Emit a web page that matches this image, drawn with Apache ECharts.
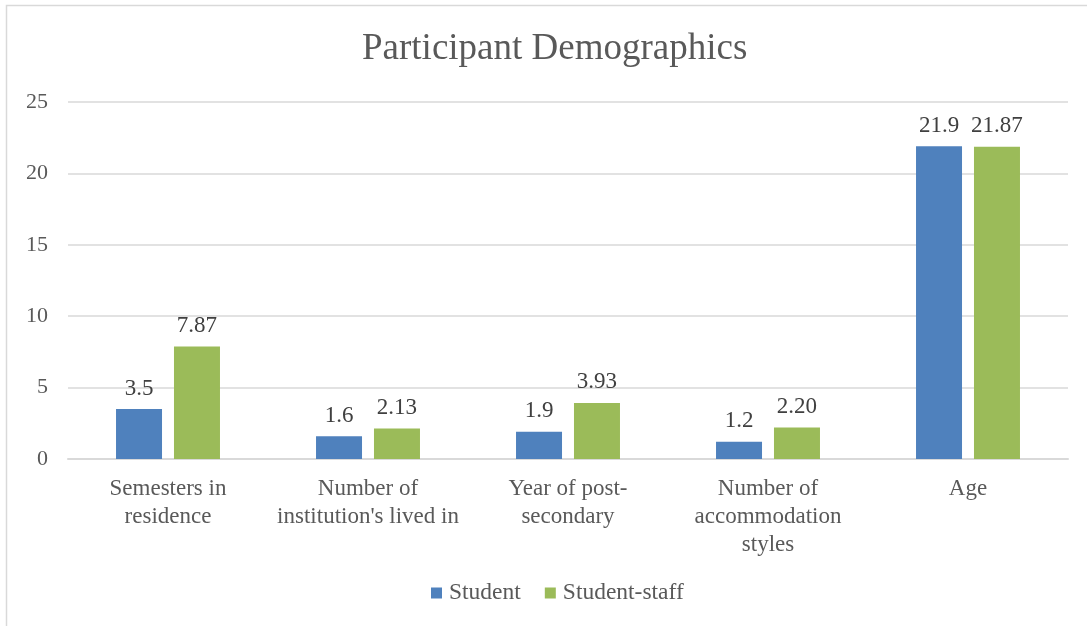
<!DOCTYPE html>
<html>
<head>
<meta charset="utf-8">
<script src="https://cdn.jsdelivr.net/npm/echarts@6/dist/echarts.min.js"></script>
<style>
  html, body { margin: 0; padding: 0; background: #fff; }
  #chart { width: 1087px; height: 626px; }
</style>
</head>
<body>
<div id="chart"></div>
<script>
// categories and values
const categories = [
  'Semesters in\nresidence',
  "Number of\ninstitution's lived in",
  'Year of post-\nsecondary',
  'Number of\naccommodation\nstyles',
  'Age',
]
const studentValues = [3.5, 1.6, 1.9, 1.2, 21.9]
const staffValues = [7.87, 2.13, 3.93, 2.20, 21.87]
const yTicks = [0, 5, 10, 15, 20, 25]

const FONT = '"Liberation Serif", "Times New Roman", serif'

const chart = echarts.init(document.getElementById('chart'))

chart.setOption({
  animation: false,
  textStyle: { fontFamily: FONT },
  graphic: [{
    type: 'rect',
    shape: { x: 6.5, y: 5.5, width: 1200, height: 800 },
    style: { fill: 'none', stroke: '#d9d9d9', lineWidth: 1.5 },
    silent: true,
  }],
  title: {
    text: 'Participant Demographics',
    left: 357,
    top: 26,
    textStyle: { fontFamily: FONT, fontSize: 37, fontWeight: 'normal', color: '#595959' },
  },
  legend: {
    bottom: 16,
    left: 426,
    itemWidth: 11,
    itemHeight: 11,
    itemGap: 24,
    icon: 'rect',
    textStyle: { fontFamily: FONT, fontSize: 23.5, color: '#595959', padding: [0, 0, 0, 2] },
  },
  grid: { left: 68, right: 19, top: 102, bottom: 167, containLabel: false },
  xAxis: {
    type: 'category',
    data: categories,
    axisLine: { lineStyle: { color: '#d9d9d9', width: 2 } },
    axisTick: { show: false },
    axisLabel: {
      fontFamily: FONT, fontSize: 23, color: '#595959',
      lineHeight: 28, margin: 16, interval: 0,
    },
  },
  yAxis: {
    type: 'value',
    min: yTicks[0],
    max: yTicks[yTicks.length - 1],
    interval: 5,
    axisLine: { show: false },
    axisTick: { show: false },
    splitLine: { lineStyle: { color: '#d9d9d9', width: 1.5 } },
    axisLabel: { fontFamily: FONT, fontSize: 22, color: '#595959', margin: 20 },
  },
  series: [
    {
      name: 'Student',
      type: 'bar',
      data: studentValues,
      barWidth: 46,
      barGap: '26%',
      itemStyle: { color: '#4f81bd' },
      label: {
        show: true, position: 'top', distance: 9,
        fontFamily: FONT, fontSize: 23, color: '#404040',
      },
    },
    {
      name: 'Student-staff',
      type: 'bar',
      data: staffValues,
      barWidth: 46,
      itemStyle: { color: '#9bbb59' },
      label: {
        show: true, position: 'top', distance: 9,
        fontFamily: FONT, fontSize: 23, color: '#404040',
        formatter: p => p.value.toFixed(2),
      },
    },
  ],
})
</script>
</body>
</html>
